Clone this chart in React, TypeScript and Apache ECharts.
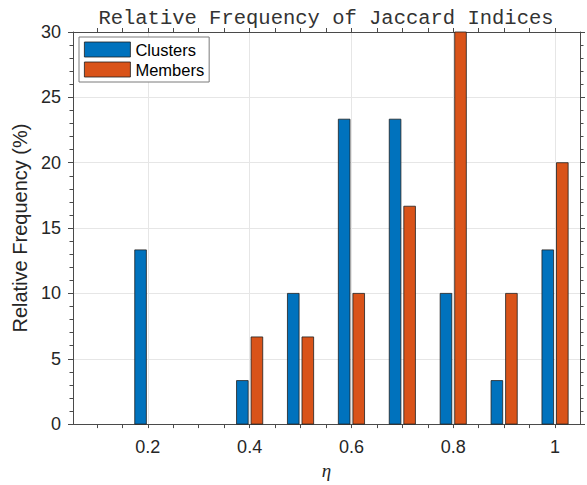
import React, { useEffect, useRef } from "react";
import * as echarts from "echarts";

const etas = [0.2, 0.3, 0.4, 0.5, 0.6, 0.7, 0.8, 0.9, 1.0];
const clusters = [13.33, 0, 3.33, 10, 23.33, 23.33, 10, 3.33, 13.33];
const members = [0, 0, 6.67, 6.67, 10, 16.67, 30, 10, 20];
const xTickValues = [0.1, 0.15, 0.2, 0.25, 0.3, 0.35, 0.4, 0.45, 0.5, 0.55, 0.6, 0.65, 0.7, 0.75, 0.8, 0.85, 0.9, 0.95, 1.0];
const xLabelValues = [0.2, 0.4, 0.6, 0.8, 1];

const BLUE = "#0072BD";
const ORANGE = "#D95319";
const EDGE = "#1f1f1f";
const AXIS = "#4a4a4a";
const GRID = "#e6e6e6";
const SANS = "'Liberation Sans', Arial, sans-serif";

const SLOT = 0.1 * (2 / 3.5) / 2; // MATLAB grouped bar slot
const BAR_W = SLOT * 0.8;

function makeSeries(name: string, values: number[], color: string, offset: number) {
  return {
    name,
    type: "custom",
    xAxisIndex: 0,
    yAxisIndex: 0,
    itemStyle: { color, borderColor: EDGE, borderWidth: 0.8 },
    data: etas.map((e, i) => [e, values[i]]),
    renderItem: (params: any, api: any) => {
      const x = api.value(0);
      const y = api.value(1);
      if (!y) return null;
      const p0 = api.coord([x + offset - BAR_W / 2, y]);
      const p1 = api.coord([x + offset + BAR_W / 2, 0]);
      return {
        type: "rect",
        shape: { x: p0[0], y: p0[1], width: p1[0] - p0[0], height: p1[1] - p0[1] },
        style: { fill: color, stroke: EDGE, lineWidth: 0.8 },
      };
    },
  };
}

export default function App() {
  const ref = useRef<HTMLDivElement>(null);
  useEffect(() => {
    if (!ref.current) return;
    const chart = echarts.init(ref.current, undefined, { renderer: "svg" });
    const xMin = 0.053;
    const xMax = 1.049;
    const tickCommon = { show: true, inside: false, length: 4, lineStyle: { color: AXIS, width: 1 } };
    chart.setOption({
      animation: false,
      backgroundColor: "#ffffff",
      grid: { left: 73, right: 7, top: 32, bottom: 55, containLabel: false },
      graphic: [
        {
          type: "text",
          x: 326,
          y: 18,
          style: {
            text: "Relative Frequency of Jaccard Indices",
            font: "20.5px 'Liberation Mono', 'Courier New', monospace",
            fill: "#333333",
            textAlign: "center",
            textVerticalAlign: "middle",
          },
        },
      ],
      legend: {
        orient: "vertical",
        left: 79,
        top: 37,
        padding: [4, 5, 4, 5],
        itemGap: 3,
        itemWidth: 46,
        itemHeight: 15,
        icon: "rect",
        borderColor: "#7a7a7a",
        borderWidth: 1,
        backgroundColor: "#ffffff",
        textStyle: { fontSize: 16.5, lineHeight: 15, color: "#000", fontFamily: SANS },
        data: [
          { name: "Clusters", itemStyle: { color: BLUE, borderColor: EDGE, borderWidth: 0.8 } },
          { name: "Members", itemStyle: { color: ORANGE, borderColor: EDGE, borderWidth: 0.8 } },
        ],
      },
      xAxis: [
        {
          type: "value",
          position: "bottom",
          min: xMin,
          max: xMax,
          axisLine: { show: true, lineStyle: { color: AXIS, width: 1 } },
          axisTick: { ...tickCommon, customValues: xTickValues },
          axisLabel: {
            show: true,
            customValues: xLabelValues,
            fontSize: 18,
            color: "#262626",
            fontFamily: SANS,
            margin: 14,
            formatter: (v: number) => String(Math.round(v * 10) / 10),
          },
          splitLine: { show: false },
          name: "η",
          nameLocation: "middle",
          nameGap: 32,
          nameTextStyle: { fontSize: 19, fontStyle: "italic", fontFamily: "'Liberation Serif', 'Times New Roman', serif", color: "#262626" },
        },
        {
          type: "value",
          position: "top",
          min: xMin,
          max: xMax,
          axisLine: { show: true, onZero: false, lineStyle: { color: AXIS, width: 1 } },
          axisTick: { ...tickCommon, customValues: xTickValues },
          axisLabel: { show: false },
          splitLine: { show: false },
        },
        {
          type: "value",
          position: "bottom",
          min: xMin,
          max: xMax,
          axisLine: { show: false },
          axisTick: { show: false, customValues: xLabelValues },
          axisLabel: { show: false, customValues: xLabelValues },
          splitLine: { show: true, lineStyle: { color: GRID, width: 1 } },
        },
      ],
      yAxis: [
        {
          type: "value",
          position: "left",
          min: 0,
          max: 30,
          interval: 5,
          axisLine: { show: true, lineStyle: { color: AXIS, width: 1 } },
          axisTick: { show: true, inside: false, length: 5, lineStyle: { color: AXIS } },
          minorTick: { show: true, splitNumber: 5, length: 3.5, lineStyle: { color: AXIS } },
          axisLabel: { fontSize: 18, color: "#262626", fontFamily: SANS, margin: 12 },
          splitLine: { show: true, lineStyle: { color: GRID, width: 1 } },
          name: "Relative Frequency (%)",
          nameLocation: "middle",
          nameGap: 30,
          nameTextStyle: { fontSize: 20, color: "#262626", fontFamily: SANS },
        },
        {
          type: "value",
          position: "right",
          min: 0,
          max: 30,
          interval: 5,
          axisLine: { show: true, onZero: false, lineStyle: { color: AXIS, width: 1 } },
          axisTick: { show: true, inside: false, length: 5, lineStyle: { color: AXIS } },
          minorTick: { show: true, splitNumber: 5, length: 3.5, lineStyle: { color: AXIS } },
          axisLabel: { show: false },
          splitLine: { show: false },
        },
      ],
      series: [
        makeSeries("Clusters", clusters, BLUE, -SLOT / 2),
        makeSeries("Members", members, ORANGE, SLOT / 2),
      ],
    });
    return () => chart.dispose();
  }, []);
  return <div ref={ref} style={{ position: "absolute", left: 0, top: 0, width: 587, height: 485 }} />;
}
